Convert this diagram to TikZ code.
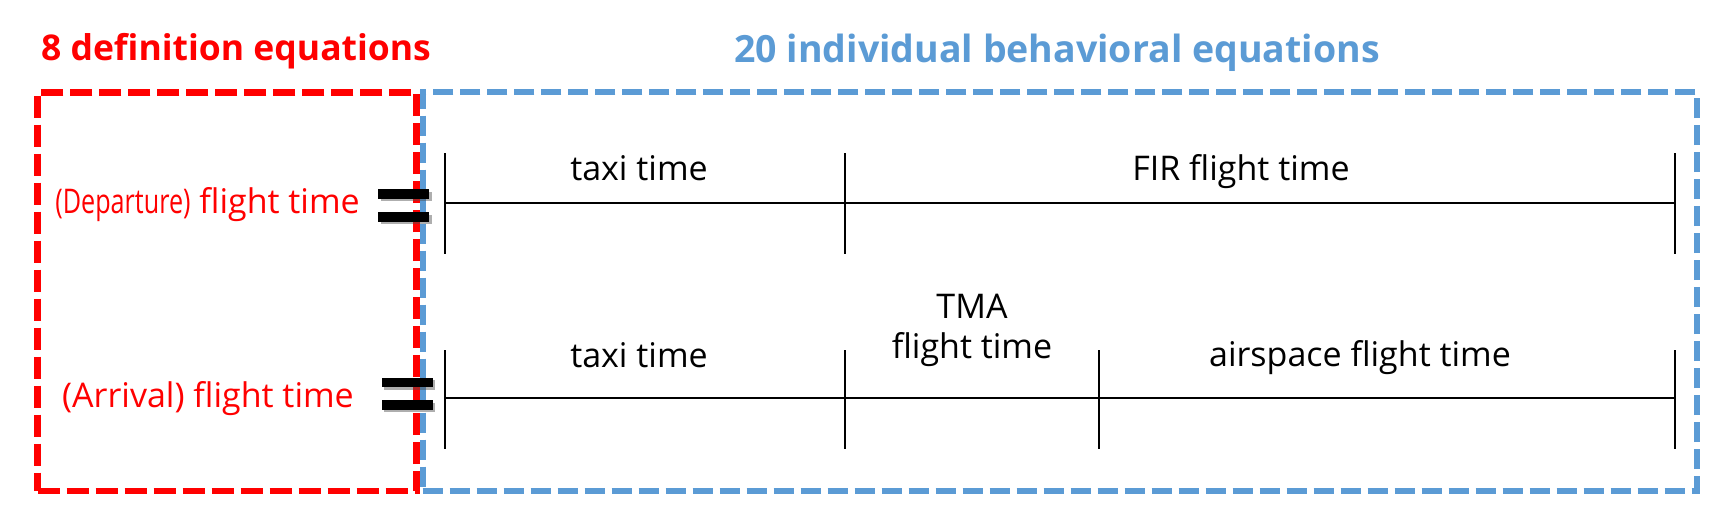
\documentclass[tikz,border=0pt]{standalone}
\usepackage{fontspec}
\setmainfont{Open Sans}
\usetikzlibrary{shadows,calc}
\definecolor{defred}{RGB}{255,0,0}
\definecolor{behblue}{RGB}{91,155,213}
\begin{document}
\begin{tikzpicture}[x=1pt,y=-1pt,
  lbl/.style={font=\fontsize{34}{40}\selectfont, inner sep=0pt, anchor=base, align=center},
  redlbl/.style={lbl, text=defred, anchor=base east},
  ttl/.style={inner sep=0pt, anchor=base},
  redbox/.style={draw=defred, line width=6.5pt, dash pattern=on 22pt off 7pt, inner sep=0pt},
  bluebox/.style={draw=behblue, line width=6pt, dash pattern=on 20pt off 7pt, inner sep=0pt},
  tline/.style={draw=black, line width=2.3pt},
  tickline/.style={draw=black, line width=2pt},
  eqbar/.style={fill=black, draw=none, inner sep=0pt, minimum width=51pt, minimum height=9.5pt,
     drop shadow={shadow xshift=2.5pt, shadow yshift=-2.5pt, opacity=0.45, fill=black!70}}]
\useasboundingbox[fill=white] (0,0) rectangle (1725,528);

% titles
\node[ttl, text=defred, font=\fontsize{35.5}{40}\selectfont\bfseries] (deftitle) at (236,60) {8 definition equations};
\node[ttl, text=behblue, font=\fontsize{37.5}{42}\selectfont\bfseries] (behtitle) at (1057,62) {20 individual behavioral equations};

% boxes
\node[bluebox, minimum width=1274pt, minimum height=398.7pt] (behbox) at (1059.7,291.65) {};
\node[redbox, minimum width=379pt, minimum height=398.7pt] (defbox) at (227.2,291.65) {};

% departure timeline
\coordinate (d0) at (445,203);
\coordinate (d1) at (845,203);
\coordinate (d2) at (1675,203);
\draw[tline] (d0) -- (d1) -- (d2);
\foreach \p in {d0,d1,d2}{
  \draw[tickline] ($(\p)+(0,-50)$) -- ($(\p)+(0,51)$);
}

% arrival timeline
\coordinate (a0) at (445,398);
\coordinate (a1) at (845,398);
\coordinate (a2) at (1099,398);
\coordinate (a3) at (1675,398);
\draw[tline] (a0) -- (a1) -- (a2) -- (a3);
\foreach \p in {a0,a1,a2,a3}{
  \draw[tickline] ($(\p)+(0,-48)$) -- ($(\p)+(0,51)$);
}

% segment labels
\node[lbl] (dtaxi) at (639,180) {taxi time};
\node[lbl] (dfir) at (1241,180) {FIR flight time};
\node[lbl] (ataxi) at (639,367) {taxi time};
\node[lbl] (atma) at (972,358) {TMA\\flight time};
\node[lbl] (aair) at (1360,366) {airspace flight time};

% left labels
\node[redlbl] (deplbl) at (360,213) {\scalebox{0.74}[1]{(Departure)} flight time};
\node[redlbl] (arrlbl) at (354,407) {(Arrival) flight time};

% equal signs
\node[eqbar] (deq1) at (403.8,194.2) {};
\node[eqbar] (deq2) at (403.8,216.8) {};
\node[eqbar] (aeq1) at (407,382.5) {};
\node[eqbar] (aeq2) at (407,405) {};
\end{tikzpicture}
\end{document}
